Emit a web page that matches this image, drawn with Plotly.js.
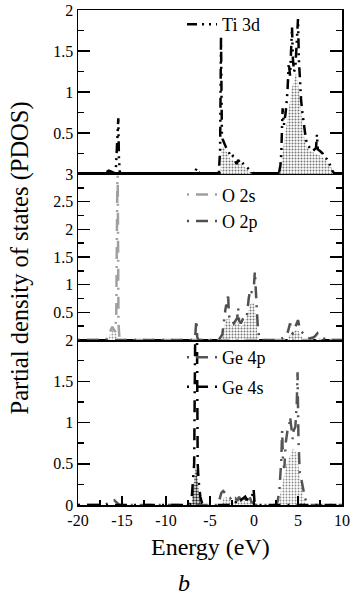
<!DOCTYPE html>
<html><head><meta charset="utf-8">
<script src="https://cdn.plot.ly/plotly-3.0.1.min.js"></script>
<style>html,body{margin:0;padding:0;background:#fff}#plot{width:354px;height:597px}</style>
</head><body><div id="plot"></div>
<script>
// ---- Data (Energy in eV, PDOS values) ----
const ti3dE = [-20,-17.2,-16.8,-16.5,-16.2,-15.9,-15.7,-15.6,-15.5,-15.42,-15.35,-15.25,-15,-7.0,-6.7,-6.5,-6.3,-6.0,-4.0,-3.85,-3.75,-3.65,-3.55,-3.4,-3.2,-3.0,-2.8,-2.6,-2.4,-2.2,-2.0,-1.8,-1.6,-1.4,-1.2,-1.0,-0.8,-0.5,-0.3,0,2.8,3.0,3.1,3.25,3.4,3.6,3.8,3.95,4.1,4.2,4.32,4.42,4.55,4.7,4.85,5.0,5.1,5.2,5.35,5.5,5.7,5.9,6.1,6.3,6.5,6.7,6.9,7.05,7.15,7.25,7.5,7.8,8.0,8.3,8.5,8.7,8.9,9.1,9.3,10];
const ti3dV = [0,0,0.02,0.04,0.03,0.01,0.05,0.3,0.55,0.68,0.2,0.02,0,0,0.03,0.07,0.02,0,0,0.3,1.68,0.5,0.42,0.38,0.33,0.3,0.25,0.2,0.22,0.18,0.12,0.17,0.14,0.16,0.12,0.1,0.08,0.05,0.02,0,0,0.1,0.25,0.8,0.6,0.75,1.0,1.35,1.2,1.5,1.79,1.4,1.25,1.3,1.6,1.89,1.4,1.15,0.9,0.75,0.55,0.42,0.35,0.32,0.3,0.28,0.3,0.32,0.48,0.3,0.28,0.25,0.2,0.18,0.15,0.08,0.04,0.01,0,0];
const ti3dFillE = [-3.8,-3.7,-3.5,-3.3,-3.0,-2.7,-2.4,-2.1,-1.8,-1.5,-1.2,-0.9,-0.5,-0.2,2.9,3.1,3.4,3.7,4.0,4.3,4.6,4.8,5.0,5.2,5.4,5.6,5.8,6.0,6.4,6.8,7.2,7.6,8.0,8.4,8.8,9.1,9.2];
const ti3dFillV = [0,0.3,0.33,0.3,0.25,0.18,0.17,0.1,0.14,0.12,0.1,0.06,0.03,0,0,0.15,0.35,0.6,0.85,1.05,1.15,1.25,1.1,0.95,0.7,0.5,0.4,0.33,0.28,0.26,0.25,0.22,0.18,0.14,0.08,0.02,0];

const o2sE = [-20,-17,-16.7,-16.5,-16.3,-16.1,-15.9,-15.75,-15.65,-15.55,-15.5,-15.4,-15.3,-15.1,10];
const o2sV = [0,0,0.03,0.1,0.2,0.24,0.18,0.15,0.5,3.4,3.4,0.3,0.05,0,0];
const o2sFillE = [-16.6,-16.4,-16.2,-16.0,-15.8,-15.6,-15.4];
const o2sFillV = [0,0.1,0.18,0.2,0.15,0.1,0];

const o2pE = [-20,-7.0,-6.7,-6.55,-6.45,-6.3,-4.1,-3.9,-3.6,-3.4,-3.25,-3.15,-3.0,-2.95,-2.85,-2.7,-2.5,-2.3,-2.1,-1.9,-1.8,-1.7,-1.5,-1.35,-1.2,-1.0,-0.8,-0.6,-0.45,-0.3,-0.15,0.0,0.1,0.2,0.3,0.45,0.6,0.8,2.8,3.2,3.5,3.8,4.0,4.1,4.25,4.4,4.6,4.8,5.0,5.15,5.4,5.7,6.0,6.3,6.8,7.0,7.2,7.4,7.7,8.0,8.3,10];
const o2pV = [0,0,0.02,0.36,0.05,0,0,0.03,0.1,0.42,0.55,0.64,0.6,0.85,0.45,0.35,0.36,0.3,0.35,0.4,0.58,0.35,0.3,0.35,0.4,0.38,0.45,0.75,0.9,0.85,0.95,1.0,1.24,0.8,0.6,0.2,0.05,0,0,0.03,0.05,0.12,0.22,0.3,0.15,0.12,0.2,0.28,0.36,0.25,0.15,0.1,0.05,0.03,0.05,0.08,0.12,0.07,0.05,0.02,0,0];
const o2pFillE = [-4.0,-3.7,-3.5,-3.3,-3.1,-2.9,-2.7,-2.5,-2.3,-2.1,-1.9,-1.6,-1.4,-1.2,-1.0,-0.8,-0.6,-0.4,-0.2,0.0,0.2,0.4,0.6,3.8,4.0,4.3,4.6,4.9,5.1,5.4,5.6,7.0,7.2,7.5,7.8];
const o2pFillV = [0,0.05,0.2,0.3,0.38,0.45,0.3,0.25,0.28,0.3,0.33,0.28,0.25,0.3,0.35,0.45,0.55,0.65,0.7,0.65,0.45,0.1,0,0,0.08,0.12,0.15,0.2,0.15,0.05,0,0,0.04,0.03,0];

const ge4pE = [-20,-17.0,-16.6,-16.2,-15.9,-15.6,-15.3,-4.1,-3.9,-3.7,-3.5,-3.3,-3.1,-2.9,-2.7,-2.5,-2.3,-2.1,-1.9,-1.7,-1.5,-1.3,-1.1,-0.9,-0.7,-0.5,-0.3,-0.1,0.2,2.5,2.7,2.9,3.1,3.2,3.3,3.45,3.6,3.8,4.0,4.1,4.25,4.4,4.5,4.7,4.85,4.95,5.05,5.2,5.4,5.6,5.8,6.0,6.3,10];
const ge4pV = [0,0,0.02,0.05,0.06,0.03,0,0,0.08,0.15,0.17,0.14,0.12,0.1,0.08,0.1,0.06,0.08,0.05,0.1,0.06,0.09,0.05,0.08,0.06,0.1,0.04,0.02,0,0,0.05,0.2,0.55,0.9,0.5,0.45,0.75,0.9,0.95,1.07,0.9,0.8,0.9,0.95,1.2,1.61,0.8,0.39,0.3,0.2,0.08,0.03,0,0];
const ge4pFillE = [-3.7,-3.5,-3.2,-2.9,-2.6,-2.3,-2.0,-1.7,-1.4,-1.1,-0.8,-0.5,-0.2,0.0,2.7,2.9,3.1,3.3,3.5,3.7,3.9,4.1,4.3,4.5,4.7,4.9,5.1,5.3,5.5,5.7,5.9];
const ge4pFillV = [0,0.08,0.1,0.07,0.06,0.05,0.06,0.05,0.06,0.05,0.06,0.05,0.03,0,0,0.08,0.2,0.3,0.4,0.5,0.55,0.6,0.65,0.7,0.65,0.6,0.45,0.3,0.15,0.05,0];

const ge4sE = [-20,-7.3,-7.1,-6.95,-6.8,-6.65,-6.5,-6.4,-6.3,-6.1,-5.9,-5.7,-2.2,-2.0,-1.8,-1.6,-1.4,-1.2,-1.0,-0.8,-0.6,-0.4,-0.2,-0.05,0.05,0.2,10];
const ge4sV = [0,0,0.05,0.3,0.5,2.5,2.5,0.5,0.3,0.1,0.02,0,0,0.05,0.08,0.05,0.07,0.08,0.1,0.06,0.1,0.08,0.12,0.2,0.05,0,0];
const ge4sFillE = [-7.1,-6.95,-6.8,-6.65,-6.5,-6.35,-6.2,-6.0,-5.8];
const ge4sFillV = [0,0.15,0.3,0.46,0.4,0.25,0.1,0.03,0];

const xTicks = [-20,-15,-10,-5,0,5,10];
const topTicks = [0.5,1,1.5,2];
const midTicks = [0.5,1,1.5,2,2.5,3];
const botTicks = [0,0.5,1,1.5,2];

// ---- Styles ----
const serif = '"Liberation Serif", serif';
const dashA = '10px,5px,2px,5px,2px,5px';
const dashB = '2px,7px,12px,7px';
function fillTrace(x, y, xa, ya, fg, sol) {
  return {x, y, xaxis: xa, yaxis: ya, type: 'scatter', mode: 'lines', fill: 'tozeroy',
    line: {width: 0, color: fg}, fillcolor: 'rgba(255,255,255,0)',
    fillpattern: {shape: '.', fgcolor: fg, bgcolor: 'white', size: 3, solidity: sol},
    showlegend: false, hoverinfo: 'skip'};
}
function lineTrace(name, x, y, xa, ya, color, dash, legend, group) {
  return {name, x, y, xaxis: xa, yaxis: ya, type: 'scatter', mode: 'lines',
    line: {color, width: 2.5, dash}, legend, legendgroup: group};
}

const data = [
  fillTrace(ti3dFillE, ti3dFillV, 'x3', 'y3', '#777', 0.35),
  fillTrace(o2sFillE, o2sFillV, 'x2', 'y2', '#999', 0.3),
  fillTrace(o2pFillE, o2pFillV, 'x2', 'y2', '#777', 0.35),
  fillTrace(ge4pFillE, ge4pFillV, 'x', 'y', '#888', 0.3),
  fillTrace(ge4sFillE, ge4sFillV, 'x', 'y', '#222', 0.5),
  lineTrace('Ti 3d', ti3dE, ti3dV, 'x3', 'y3', '#000', dashA, 'legend', 'a'),
  lineTrace('O 2s', o2sE, o2sV, 'x2', 'y2', '#a0a0a0', dashB, 'legend2', 'b'),
  lineTrace('O 2p', o2pE, o2pV, 'x2', 'y2', '#505050', dashB, 'legend2', 'c'),
  lineTrace('Ge 4p', ge4pE, ge4pV, 'x', 'y', '#555555', dashB, 'legend3', 'd'),
  lineTrace('Ge 4s', ge4sE, ge4sV, 'x', 'y', '#000', dashB, 'legend3', 'e')
];

const tickFont = {family: serif, size: 16, color: '#000'};
function xAxis(anchor, labels) {
  return {range: [-20, 10], anchor, showline: true, linecolor: '#000', linewidth: 1.5, mirror: true,
    tickmode: 'array', tickvals: xTicks, ticktext: xTicks.map(String), showticklabels: labels,
    ticks: labels ? 'inside' : '', ticklen: 9, tickwidth: 1.5, tickcolor: '#000',
    minor: labels ? {ticks: 'inside', dtick: 2.5, tick0: 0, ticklen: 5, tickwidth: 1.5, tickcolor: '#000'} : undefined,
    showgrid: false, zeroline: false, tickfont: tickFont, matches: anchor === 'y' ? undefined : 'x'};
}
function yAxis(domain, range, vals, anchor) {
  return {domain, range, anchor, showline: true, linecolor: '#000', linewidth: 1.5, mirror: 'ticks',
    tickmode: 'array', tickvals: vals, ticktext: vals.map(String),
    ticks: 'inside', ticklen: 12, tickwidth: 1.5, tickcolor: '#000',
    minor: {ticks: 'inside', dtick: 0.25, tick0: 0, ticklen: 6, tickwidth: 1.5, tickcolor: '#000'},
    showgrid: false, zeroline: false, tickfont: tickFont};
}
const legFont = {family: serif, size: 18, color: '#000'};
const layout = {
  width: 354, height: 597,
  margin: {l: 78, r: 12, t: 10, b: 92, autoexpand: false},
  paper_bgcolor: '#fff', plot_bgcolor: '#fff',
  font: {family: serif, color: '#000'},
  showlegend: true,
  xaxis: xAxis('y', true),
  xaxis2: xAxis('y2', false),
  xaxis3: xAxis('y3', false),
  yaxis: yAxis([0, 0.3333], [0, 2], botTicks, 'x'),
  yaxis2: yAxis([0.3333, 0.6687], [0, 3], midTicks, 'x2'),
  yaxis3: yAxis([0.6687, 1], [0, 2], topTicks, 'x3'),
  legend: {x: 0.394, y: 1.008, xanchor: 'left', yanchor: 'top', bgcolor: 'rgba(0,0,0,0)', font: legFont},
  legend2: {x: 0.394, y: 0.664, xanchor: 'left', yanchor: 'top', bgcolor: 'rgba(0,0,0,0)', font: legFont, tracegroupgap: 0},
  legend3: {x: 0.394, y: 0.335, xanchor: 'left', yanchor: 'top', bgcolor: 'rgba(0,0,0,0)', font: legFont, tracegroupgap: 3},
  annotations: [
    {text: 'Energy (eV)', xref: 'paper', yref: 'paper', x: 0.5, y: -0.085, xanchor: 'center', yanchor: 'middle',
     showarrow: false, font: {family: serif, size: 24, color: '#000'}},
    {text: '<i>b</i>', xref: 'paper', yref: 'paper', x: 0.40, y: -0.158, xanchor: 'center', yanchor: 'middle',
     showarrow: false, font: {family: serif, size: 24, color: '#000'}},
    {text: 'Partial density of states (PDOS)', xref: 'paper', yref: 'paper', x: -0.22, y: 0.5, textangle: -90,
     xanchor: 'center', yanchor: 'middle', showarrow: false, font: {family: serif, size: 24.5, color: '#000'}}
  ]
};
Plotly.newPlot('plot', data, layout, {displayModeBar: false, staticPlot: true});
</script>
</body></html>
